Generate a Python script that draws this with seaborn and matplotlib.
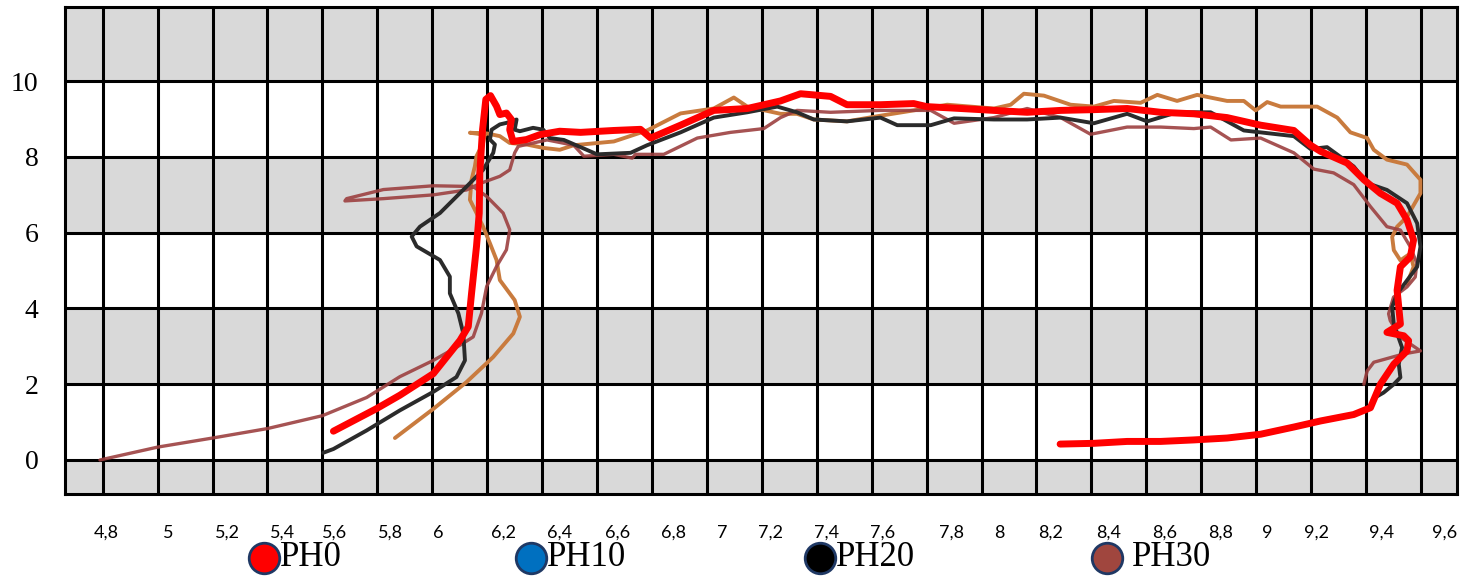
import matplotlib
matplotlib.use('Agg')
import matplotlib.pyplot as plt
from matplotlib.lines import Line2D
import numpy as np
import pandas as pd
import seaborn as sns

# ================================================
# Data
# ================================================

ph0_x = [5.640, 5.798, 5.882, 6.004, 6.101, 6.131, 6.143, 6.161, 6.171, 6.173, 6.183, 6.195,
         6.212, 6.234, 6.246, 6.270, 6.288, 6.282, 6.294, 6.343, 6.392, 6.464, 6.540, 6.661,
         6.758, 6.795, 6.904, 7.025, 7.147, 7.268, 7.341, 7.450, 7.510, 7.632, 7.753, 7.800,
         7.924, 8.045, 8.166, 8.288, 8.409, 8.530, 8.652, 8.773, 8.894, 9.016, 9.137, 9.198,
         9.234, 9.331, 9.392, 9.452, 9.513, 9.549, 9.573, 9.561, 9.525, 9.513, 9.519, 9.525,
         9.476, 9.537, 9.555, 9.549, 9.501, 9.452, 9.416, 9.355, 9.234, 9.137, 9.016, 8.894,
         8.773, 8.652, 8.530, 8.409, 8.286]
ph0_y = [0.76, 1.36, 1.71, 2.28, 3.16, 3.52, 4.40, 5.64, 6.52, 7.58, 8.72, 9.52,
         9.62, 9.34, 9.12, 9.16, 8.99, 8.72, 8.41, 8.46, 8.59, 8.68, 8.65, 8.70,
         8.73, 8.50, 8.84, 9.23, 9.28, 9.48, 9.67, 9.60, 9.38, 9.38, 9.41, 9.33,
         9.28, 9.23, 9.18, 9.23, 9.25, 9.28, 9.18, 9.14, 9.04, 8.84, 8.70, 8.31,
         8.15, 7.84, 7.40, 7.04, 6.78, 6.34, 5.81, 5.36, 5.10, 4.48, 4.04, 3.59,
         3.37, 3.28, 3.15, 2.88, 2.53, 2.00, 1.38, 1.20, 1.03, 0.87, 0.68, 0.58,
         0.53, 0.49, 0.49, 0.44, 0.42]

ph10_x = [5.864, 6.004, 6.125, 6.222, 6.295, 6.319, 6.300, 6.246, 6.234, 6.210, 6.185, 6.161,
          6.137, 6.143, 6.155, 6.161, 6.185, 6.191, 6.137, 6.200, 6.246, 6.282, 6.343, 6.404,
          6.464, 6.515, 6.661, 6.782, 6.904, 7.025, 7.098, 7.147, 7.268, 7.328, 7.389, 7.510,
          7.632, 7.753, 7.875, 8.045, 8.106, 8.154, 8.227, 8.324, 8.409, 8.482, 8.579, 8.640,
          8.712, 8.785, 8.894, 8.955, 8.998, 9.040, 9.089, 9.137, 9.222, 9.295, 9.343, 9.404,
          9.428, 9.476, 9.549, 9.598, 9.598, 9.549, 9.513, 9.495, 9.501, 9.525, 9.561, 9.573,
          9.549]
ph10_y = [0.58, 1.35, 2.06, 2.72, 3.34, 3.78, 4.22, 4.75, 5.28, 5.72, 6.16, 6.52,
          6.87, 7.40, 7.75, 8.02, 8.37, 8.59, 8.64, 8.62, 8.55, 8.37, 8.33, 8.24,
          8.19, 8.31, 8.41, 8.70, 9.15, 9.28, 9.57, 9.33, 9.14, 9.14, 8.99, 8.94,
          9.09, 9.23, 9.38, 9.28, 9.38, 9.67, 9.62, 9.38, 9.33, 9.48, 9.43, 9.64,
          9.48, 9.64, 9.48, 9.48, 9.23, 9.45, 9.33, 9.33, 9.33, 9.04, 8.65, 8.50,
          8.19, 7.93, 7.80, 7.40, 7.04, 6.42, 6.16, 5.89, 5.54, 5.27, 5.45, 5.10,
          4.65]

ph20_x = [5.603, 5.640, 5.761, 5.882, 6.004, 6.088, 6.119, 6.113, 6.095, 6.064, 6.064, 6.028,
          5.943, 5.925, 5.955, 6.028, 6.125, 6.185, 6.222, 6.228, 6.210, 6.216, 6.246, 6.270,
          6.307, 6.300, 6.319, 6.367, 6.404, 6.428, 6.479, 6.540, 6.600, 6.722, 6.782, 6.904,
          7.025, 7.147, 7.256, 7.328, 7.389, 7.510, 7.632, 7.693, 7.815, 7.900, 8.045, 8.166,
          8.288, 8.409, 8.530, 8.603, 8.712, 8.834, 8.955, 9.137, 9.198, 9.258, 9.355, 9.404,
          9.476, 9.549, 9.586, 9.598, 9.586, 9.549, 9.513, 9.495, 9.501, 9.531, 9.519, 9.525,
          9.501, 9.464, 9.440]
ph20_y = [0.19, 0.29, 0.78, 1.31, 1.80, 2.19, 2.63, 3.34, 3.87, 4.40, 4.84, 5.28,
          5.64, 5.90, 6.16, 6.52, 7.22, 7.66, 8.11, 8.33, 8.46, 8.72, 8.86, 8.90,
          8.99, 8.72, 8.68, 8.77, 8.72, 8.50, 8.45, 8.26, 8.07, 8.11, 8.31, 8.65,
          9.04, 9.18, 9.33, 9.18, 8.99, 8.94, 9.04, 8.84, 8.84, 9.02, 8.99, 8.99,
          9.04, 8.89, 9.14, 8.94, 9.18, 9.18, 8.70, 8.55, 8.21, 8.26, 7.75, 7.31,
          7.13, 6.78, 6.25, 5.63, 5.10, 4.74, 4.39, 4.04, 3.59, 2.97, 2.53, 2.18,
          2.00, 1.78, 1.68]

ph30_x = [4.790, 5.000, 5.200, 5.400, 5.600, 5.761, 5.882, 6.004, 6.101, 6.149, 6.179, 6.198,
          6.234, 6.270, 6.282, 6.258, 6.198, 6.149, 6.004, 5.822, 5.688, 5.682, 5.822, 6.004,
          6.125, 6.174, 6.246, 6.282, 6.300, 6.313, 6.343, 6.418, 6.515, 6.552, 6.661, 6.728,
          6.740, 6.843, 6.965, 7.086, 7.207, 7.268, 7.328, 7.450, 7.632, 7.815, 7.900, 8.045,
          8.166, 8.288, 8.397, 8.530, 8.652, 8.773, 8.834, 8.908, 9.016, 9.137, 9.210, 9.282,
          9.355, 9.416, 9.476, 9.525, 9.561, 9.585, 9.579, 9.549, 9.500, 9.482, 9.488, 9.525,
          9.598, 9.537, 9.428, 9.404, 9.392]
ph30_y = [0.00, 0.34, 0.58, 0.83, 1.17, 1.65, 2.20, 2.63, 3.03, 3.25, 3.87, 4.58,
          5.11, 5.55, 6.08, 6.52, 6.96, 7.22, 7.24, 7.14, 6.90, 6.84, 6.90, 7.00,
          7.13, 7.30, 7.49, 7.66, 8.11, 8.28, 8.33, 8.45, 8.31, 8.02, 8.07, 7.97,
          8.07, 8.07, 8.50, 8.65, 8.75, 9.04, 9.23, 9.18, 9.23, 9.23, 8.89, 9.04,
          9.28, 9.04, 8.60, 8.79, 8.79, 8.75, 8.79, 8.45, 8.50, 8.11, 7.68, 7.58,
          7.27, 6.69, 6.16, 6.07, 5.63, 5.19, 4.83, 4.57, 4.30, 3.86, 3.68, 3.24,
          2.88, 2.80, 2.58, 2.35, 2.00]

# tick labels (the x labels sit a little off the grid lines in the original)
y_ticks = [0, 2, 4, 6, 8, 10]
x_tick_pos = [4.812, 5.038, 5.253, 5.456, 5.644, 5.846, 6.021, 6.258, 6.465, 6.673, 6.877,
              7.056, 7.231, 7.434, 7.638, 7.889, 8.064, 8.253, 8.461, 8.665, 8.869, 9.040,
              9.218, 9.458, 9.684]
x_tick_labels = ['4,8', '5', '5,2', '5,4', '5,6', '5,8', '6', '6,2', '6,4', '6,6', '6,8',
                 '7', '7,2', '7,4', '7,6', '7,8', '8', '8,2', '8,4', '8,6', '8,8', '9',
                 '9,2', '9,4', '9,6']

legend_names = ['PH0', 'PH10', 'PH20', 'PH30']
legend_colors = ['#FF0000', '#0070C0', '#000000', '#A0463E']

# ================================================
# CHART
# ================================================

W, H = 1474, 577
fig = plt.figure(figsize=(W / 100, H / 100), dpi=100)
ax = fig.add_axes([65 / W, 1 - 494 / H, (1456.7 - 65) / W, (494 - 7) / H])

ax.set_xlim(4.6627, 9.730)
ax.set_ylim(-0.898, 11.96)

# grey bands and black grid
for lo, hi in [(-1, 0), (2, 4), (6, 8), (10, 12)]:
    ax.axhspan(lo, hi, color='#D9D9D9', lw=0, zorder=0)
for yv in y_ticks:
    ax.axhline(yv, color='black', lw=2.2, zorder=1)
for xv in np.arange(4.8, 9.61, 0.2):
    ax.axvline(xv, color='black', lw=2.2, zorder=1)

series = [
    (ph10_x, ph10_y, '#C97B3E', 2.8, 1.0),
    (ph30_x, ph30_y, '#9C4040', 2.4, 0.9),
    (ph20_x, ph20_y, '#2B2B2B', 2.8, 1.0),
    (ph0_x, ph0_y, '#FF0000', 5.0, 1.0),
]
for xs, ys, col, lw, a in series:
    d = pd.DataFrame({'x': xs, 'y': ys})
    sns.lineplot(data=d, x='x', y='y', sort=False, estimator=None, color=col,
                 lw=lw, alpha=a, ax=ax, zorder=3,
                 solid_capstyle='round', solid_joinstyle='round')

for s in ax.spines.values():
    s.set_linewidth(2.2)
    s.set_color('black')
    s.set_zorder(4)

ax.set_yticks(y_ticks)
ax.set_yticklabels([str(v) for v in y_ticks], family='Liberation Serif', fontsize=20)
ax.set_xticks(x_tick_pos)
ax.set_xticklabels(x_tick_labels, family='Lato', fontsize=13)
ax.tick_params(axis='y', length=0, pad=19)
ax.tick_params(axis='x', length=0, pad=22)
ax.set_xlabel('')
ax.set_ylabel('')

# legend row below the axis
marker_x = [264, 531, 820, 1107]
text_x = [280, 547, 836, 1132]
leg_y = 1 - 558 / H
for name, col, mx, tx in zip(legend_names, legend_colors, marker_x, text_x):
    fig.add_artist(Line2D([mx / W], [leg_y], marker='o', markersize=22,
                          markerfacecolor=col, markeredgecolor='#1F3864',
                          markeredgewidth=2, transform=fig.transFigure))
    fig.text(tx / W, leg_y, name, family='Liberation Serif', fontsize=25,
             va='center', ha='left')

fig.savefig('out.png', dpi=100)
